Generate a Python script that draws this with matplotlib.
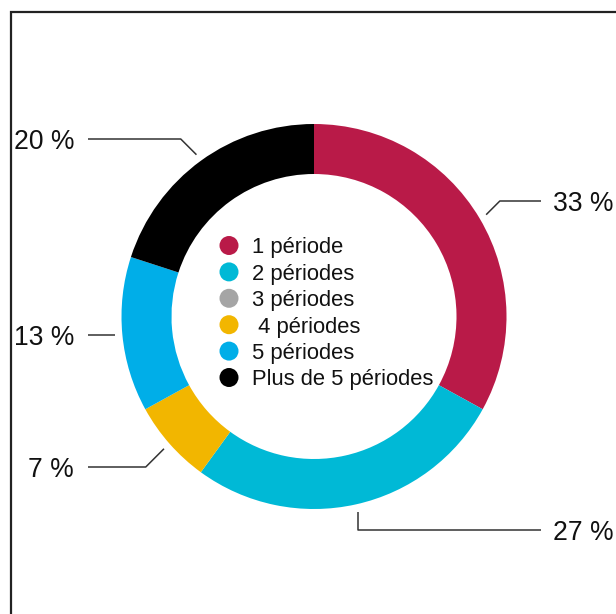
import matplotlib
matplotlib.use("Agg")
import matplotlib.pyplot as plt
from matplotlib.patches import Rectangle
import numpy as np

# ---- data ----
categories = ["1 période", "2 périodes", "3 périodes", " 4 périodes", "5 périodes", "Plus de 5 périodes"]
values = [33, 27, 0, 7, 13, 20]
labels = ["33 %", "27 %", "", "7 %", "13 %", "20 %"]
colors = ["#B91A48", "#00B9D6", "#A5A5A5", "#F2B600", "#00AEE8", "#000000"]

# ---- layout (pixel units, y measured from top) ----
W, H = 616, 614
CX, CY = 314, 316.5
R_OUT, RING = 192.5, 50
ANCHOR_R = 200
label_y_px = [201, 530, None, 467, 337, 139]
leader_style = ["diag", "vert", None, "diag", "flat", "diag"]
LEFT_LINE_END, LEFT_TEXT_X = 88, 74
RIGHT_LINE_END, RIGHT_TEXT_X = 541, 553

plt.rcParams['font.family'] = ['Liberation Sans', 'DejaVu Sans']

fig = plt.figure(figsize=(W / 100, H / 100), dpi=100)
ax = fig.add_axes([0, 0, 1, 1])

def py(y):
    return H - y

wedges, _ = ax.pie(values, colors=colors, startangle=90, counterclock=False,
                   radius=R_OUT, center=(CX, py(CY)),
                   wedgeprops=dict(width=RING, edgecolor='none', linewidth=0))
ax.set_xlim(0, W)
ax.set_ylim(0, H)
ax.set_aspect('auto')
ax.axis('off')

lc = "#333333"
for w, lab, ly, style in zip(wedges, labels, label_y_px, leader_style):
    if not lab:
        continue
    mid = np.deg2rad((w.theta1 + w.theta2) / 2)
    axx = CX + ANCHOR_R * np.cos(mid)
    ayy = CY - ANCHOR_R * np.sin(mid)
    side = 1 if np.cos(mid) > 0 else -1
    xs, ys = [axx], [ayy]
    if style == "diag":
        dy = abs(ly - ayy)
        xs.append(axx + side * dy); ys.append(ly)
    elif style == "vert":
        xs.append(axx); ys.append(ly)
    else:
        ly = ayy
    end = RIGHT_LINE_END if side > 0 else LEFT_LINE_END
    xs.append(end); ys.append(ly)
    ax.plot(xs, [py(v) for v in ys], color=lc, lw=1.1, solid_capstyle='butt')
    if side > 0:
        ax.text(RIGHT_TEXT_X, py(ly), lab, ha='left', va='center_baseline', fontsize=19.1, color='#111111')
    else:
        ax.text(LEFT_TEXT_X, py(ly), lab, ha='right', va='center_baseline', fontsize=19.1, color='#111111')

# legend inside the ring
LEG_X, LEG_Y0, LEG_DY = 229, 245.5, 26.4
for i, (cat, col) in enumerate(zip(categories, colors)):
    yy = LEG_Y0 + i * LEG_DY
    ax.scatter([LEG_X], [py(yy)], s=19 ** 2 * 0.72 ** 2, color=col, edgecolors='none', zorder=3)
    ax.text(LEG_X + 23.5, py(yy), cat, ha='left', va='center_baseline', fontsize=15.8, color='#111111')

# frame
fig.patches.append(Rectangle((10.5 / W, -0.1), 1.2, (py(12) / H) + 0.1, transform=fig.transFigure,
                             fill=False, edgecolor='#222222', linewidth=1.6))

fig.savefig("out.png", dpi=100, facecolor='white')
